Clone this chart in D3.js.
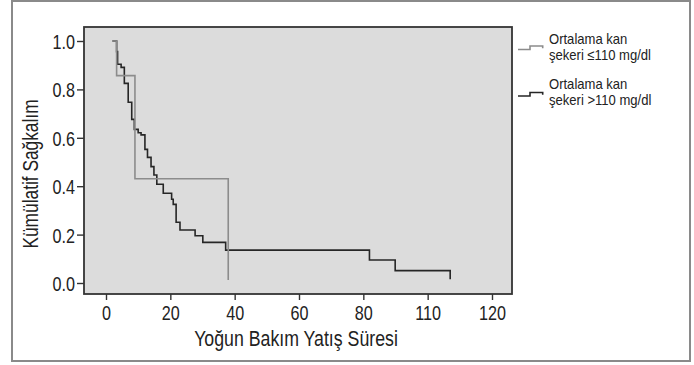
<!DOCTYPE html>
<html>
<head>
<meta charset="utf-8">
<script src="https://cdn.jsdelivr.net/npm/d3@7"></script>
<style>
  html, body { margin: 0; padding: 0; background: #fff; }
  svg { display: block; }
  text { font-family: 'Liberation Sans Narrow', 'Arial Narrow', 'Liberation Sans', Arial, sans-serif; fill: #222; }
</style>
</head>
<body>
<svg id="chart" width="694" height="365"></svg>
<script>
// Kaplan-Meier steps (time, cumulative survival after the step)
const lowTimes = [2, 3.3, 9.0, 38.0]
const lowSurv = [1.0, 0.857, 0.431, 0.012]
const highTimes = [2, 3.3, 3.6, 4.7, 5.7, 6.9, 8.0, 8.8, 10.0, 10.9, 12.1, 12.9, 14.0, 14.9, 15.8,
  17.8, 20.4, 20.9, 21.8, 23.0, 27.7, 30.1, 37.2, 81.9, 89.9, 107.0]
const highSurv = [1.0, 0.956, 0.904, 0.891, 0.825, 0.747, 0.676, 0.635, 0.621, 0.612, 0.552, 0.519, 0.481, 0.446, 0.408,
  0.371, 0.346, 0.325, 0.251, 0.219, 0.195, 0.168, 0.136, 0.095, 0.051, 0.015]

const xTicks = [0, 20, 40, 60, 80, 100, 120]
const xTickLabels = ['0', '20', '40', '60', '80', '110', '120']
const yTicks = [0, 0.2, 0.4, 0.6, 0.8, 1.0]
const seriesNames = [['Ortalama kan', 'şekeri ≤110 mg/dl'], ['Ortalama kan', 'şekeri >110 mg/dl']]
const seriesColors = ['#8c8c8c', '#262626']

const svg = d3.select('#chart')
const frame = { left: 84, top: 27, right: 512, bottom: 294 }

const x = d3.scaleLinear().domain([0, 120]).range([106, 492])
const y = d3.scaleLinear().domain([0, 1]).range([283, 41])

// no narrow face installed: squeeze the regular one
function condense(sel, k = 0.8){
  sel.each(function(){
    const w = this.getComputedTextLength()
    d3.select(this).attr('textLength', w * k).attr('lengthAdjust', 'spacingAndGlyphs')
  })
}

// outer box
svg.append('rect').attr('x', 12).attr('y', 1).attr('width', 678).attr('height', 360)
  .attr('fill', 'none').attr('stroke', '#8a8a8a').attr('stroke-width', 2)

// plot area
svg.append('rect').attr('x', frame.left).attr('y', frame.top)
  .attr('width', frame.right - frame.left).attr('height', frame.bottom - frame.top)
  .attr('fill', '#dcdcdc')

const line = d3.line().x(d => x(d[0])).y(d => y(d[1])).curve(d3.curveStepAfter)
const highPts = highTimes.map((t, i) => [t, highSurv[i]])
const lowPts = lowTimes.map((t, i) => [t, lowSurv[i]])

svg.append('path').datum(highPts).attr('d', line)
  .attr('fill', 'none').attr('stroke', seriesColors[1]).attr('stroke-width', 1.6)
svg.append('path').datum(lowPts).attr('d', line)
  .attr('fill', 'none').attr('stroke', seriesColors[0]).attr('stroke-width', 1.6)

svg.append('rect').attr('x', frame.left).attr('y', frame.top)
  .attr('width', frame.right - frame.left).attr('height', frame.bottom - frame.top)
  .attr('fill', 'none').attr('stroke', '#333').attr('stroke-width', 1.8)

// axes
const xAxis = svg.append('g').attr('transform', `translate(0,${frame.bottom})`)
  .call(d3.axisBottom(x).tickValues(xTicks).tickSize(6).tickPadding(4)
    .tickFormat((d, i) => xTickLabels[i]))
const yAxis = svg.append('g').attr('transform', `translate(${frame.left},0)`)
  .call(d3.axisLeft(y).tickValues(yTicks).tickSize(7).tickPadding(2).tickFormat(d3.format('.1f')))
for (const g of [xAxis, yAxis]) {
  g.select('.domain').remove()
  g.selectAll('.tick line').attr('stroke', '#333').attr('stroke-width', 1.4)
  g.selectAll('.tick text').attr('font-size', 21).attr('fill', '#1a1a1a')
    .style('font-family', "'Liberation Sans Narrow', 'Arial Narrow', 'Liberation Sans', Arial, sans-serif")
    .call(condense, 0.77)
}
yAxis.selectAll('.tick text').attr('dy', '0.36em')
xAxis.selectAll('.tick text').attr('dy', '0.74em')

// axis titles
svg.append('text').attr('x', 296).attr('y', 346).attr('text-anchor', 'middle')
  .attr('font-size', 22).text('Yoğun Bakım Yatış Süresi').call(condense, 0.806)
svg.append('text').attr('transform', 'translate(38,174) rotate(-90)').attr('text-anchor', 'middle')
  .attr('font-size', 22).text('Kümülatif Sağkalım').call(condense, 0.787)

// legend: one text per entry, the two lines as tspans
const legendY = [46, 92.5]
const legendText = [43.5, 88.7]
seriesNames.forEach((names, i) => {
  const yy = legendY[i]
  svg.append('path')
    .attr('d', `M518,${yy + 3.5}H530V${yy}H542.7V${yy + 2.2}`)
    .attr('fill', 'none').attr('stroke', seriesColors[i]).attr('stroke-width', 1.6)
  const t = svg.append('text').attr('x', 549).attr('y', legendText[i]).attr('font-size', 14.5)
  names.forEach((n, j) => {
    t.append('tspan').attr('x', 549).attr('dy', j ? 16.5 : 0).text(n).call(condense, 0.9)
  })
})
</script>
</body>
</html>
